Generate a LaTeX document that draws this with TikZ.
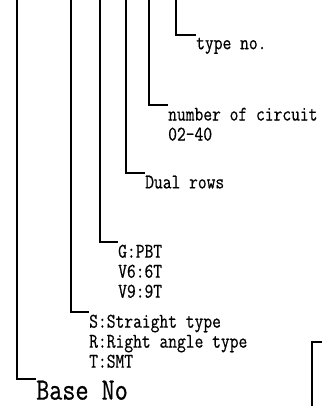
\documentclass[tikz,border=0pt]{standalone}
\usepackage{fontspec}
\newfontfamily\labelfont{Latin Modern Mono}[FakeStretch=0.82,FakeBold=0.6]
\begin{document}
\begin{tikzpicture}[x=1pt,y=-1pt,
  lead/.style={line width=1.5pt},
  lbl/.style={anchor=north west, inner xsep=0pt, inner ysep=2.5pt, align=left,
    font=\labelfont\fontsize{20.8}{20}\selectfont},
  big/.style={lbl, inner ysep=1.5pt, font=\labelfont\fontsize{31}{33}\selectfont}]
\useasboundingbox (0,0) rectangle (322,406);
% top ends of the leaders
\coordinate (t1) at (17,0);
\coordinate (t2) at (71,0);
\coordinate (t3) at (100,0);
\coordinate (t4) at (126,0);
\coordinate (t5) at (149,0);
\coordinate (t6) at (176,0);
% labels
\node[lbl] (n6) at (196,35) {type no.};
\node[lbl] (n5) at (168,105) {number of circuit\\02-40};
\node[lbl] (n4) at (145,173) {Dual rows};
\node[lbl] (n3) at (118,242) {G:PBT\\V6:6T\\V9:9T};
\node[lbl] (n2) at (89,312) {S:Straight type\\R:Right angle type\\T:SMT};
\node[big] (n1) at (36,379) {Base No};
% leaders
\draw[lead] (t6) |- (n6.north west);
\draw[lead] (t5) |- (n5.north west);
\draw[lead] (t4) |- (n4.north west);
\draw[lead] (t3) |- (n3.north west);
\draw[lead] (t2) |- (n2.north west);
\draw[lead] (t1) |- (n1.north west);
% bracket at bottom right
\coordinate (b1) at (312,406);
\coordinate (b2) at (322,342);
\draw[lead] (b1) |- (b2);
\end{tikzpicture}
\end{document}
